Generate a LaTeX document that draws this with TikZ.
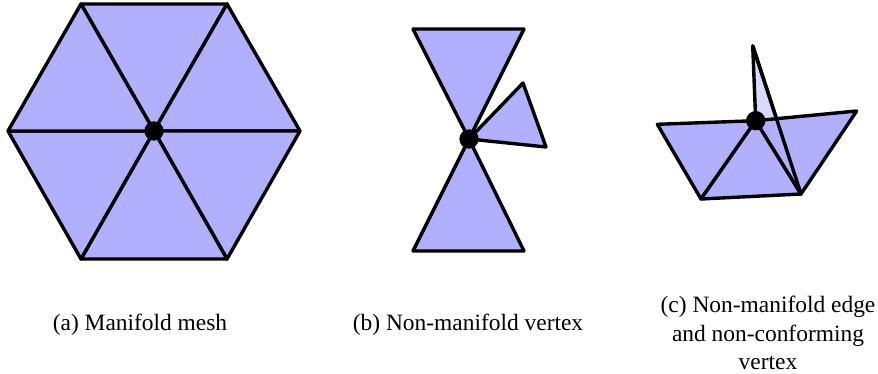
\documentclass[tikz,border=0pt]{standalone}
\usepackage{fontspec}
\setmainfont{Liberation Serif}
\colorlet{meshA}{blue!31!white}
\colorlet{meshB}{blue!15!white}
\tikzset{
  facet/.style={draw=black, line width=2.9pt, line join=round, fill=meshA},
  flap/.style={facet, fill=meshB},
  dot/.style={circle, fill=black, inner sep=0pt, minimum size=0.58cm},
  caption/.style={font=\fontsize{20}{24.2}\selectfont, align=center, inner sep=0pt},
}

\begin{document}
\begin{tikzpicture}[x=0.03cm, y=-0.03cm]
    \useasboundingbox (0,0) rectangle (878,374);
    % (a) manifold
    \coordinate (ac) at (154,131);
    \coordinate (a1) at (81,4);
    \coordinate (a2) at (227,4);
    \coordinate (a3) at (300,131);
    \coordinate (a4) at (227,259);
    \coordinate (a5) at (81,259);
    \coordinate (a6) at (8,131);
    \foreach \p/\q in {a1/a2,a2/a3,a3/a4,a4/a5,a5/a6,a6/a1}{%
      \draw[facet](ac)--(\p)--(\q)--cycle;}
    \node[dot] (adot) at (ac){};
    % (b) vertex
    \coordinate (bc) at (469,139);
    \coordinate (b1) at (413,29);
    \coordinate (b2) at (524,29);
    \coordinate (b3) at (523,83);
    \coordinate (b4) at (546,147);
    \coordinate (b5) at (524,251);
    \coordinate (b6) at (413,251);
    \foreach \p/\q in {b1/b2,b3/b4,b5/b6}{%
      \draw[facet](bc)--(\p)--(\q)--cycle;}
    \node[dot] (bdot) at (bc){};
    % (c) edge
    \coordinate (cc) at (755.7,120.7);
    \coordinate (c1) at (657.3,124.3);
    \coordinate (c2) at (701,199);
    \coordinate (c3) at (801,194);
    \coordinate (c4) at (856.7,111);
    \coordinate (c5) at (752.7,45.7);
    \draw[flap](cc)--(c5)--(c3)--cycle;
    \foreach \p/\q in {c1/c2,c2/c3,c3/c4}{%
      \draw[facet](cc)--(\p)--(\q)--cycle;}
    \draw[facet, fill=none](c5)--(c3);
    \node[dot] (cdot) at (cc){};
    % captions
    \node[caption] (acap) at (140,325){(a) Manifold mesh};
    \node[caption] (bcap) at (468,325){(b) Non-manifold vertex};
    \node[caption] (ccap) at (768,333){(c) Non-manifold edge\\and non-conforming\\vertex};
  \end{tikzpicture}
\end{document}
